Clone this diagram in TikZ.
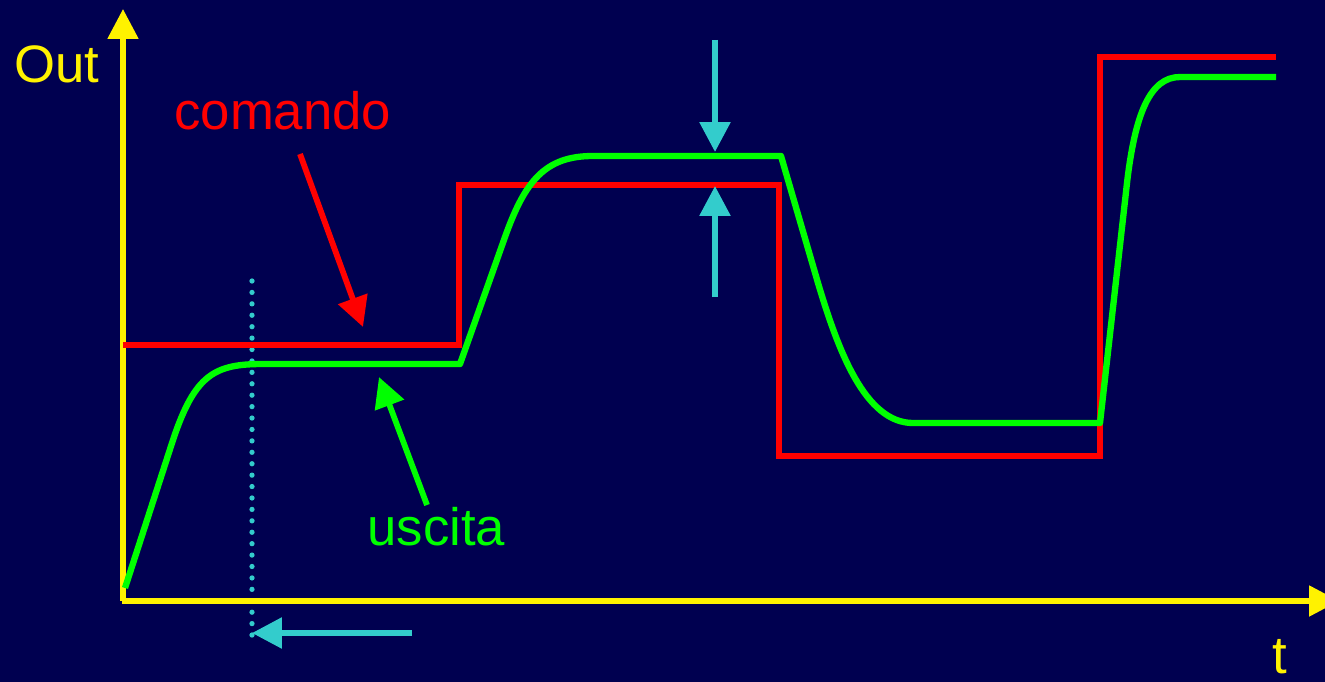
\documentclass[tikz,border=0pt]{standalone}
\usepackage{fontspec}
\setmainfont{Liberation Sans}
\usetikzlibrary{arrows.meta,positioning,calc}
\definecolor{navy}{RGB}{0,0,80}
\definecolor{cyanarr}{RGB}{51,204,204}

\begin{document}
\begin{tikzpicture}
  [x=0.02cm,y=-0.02cm,
   every node/.style={inner sep=0, anchor=base west, font=\fontsize{30}{36}\selectfont},
   axisline/.style={draw=yellow, line width=3pt, -{Triangle[length=0.6cm,width=0.6cm]}},
   pointer/.style={line width=3.3pt, -{Triangle[length=0.6cm,width=0.6cm]}},
   cmdline/.style={draw=red, line width=3.2pt, line join=miter},
   outcurve/.style={draw=green, line width=3.6pt, line join=round}]
  \fill [navy] (0,0) rectangle (1325,682);
  \useasboundingbox (0,0) rectangle (1325,682);

  \coordinate (O) at (123,601);
  \coordinate (xstart) at (121.5,601);
  \coordinate (ytip) at (123,9);
  \coordinate (xtip) at (1339,601);

  \coordinate (cmdtail) at (300,154);
  \coordinate (cmdtip) at (363,327);
  \coordinate (outtail) at (427,505);
  \coordinate (outtip) at (379,377);
  \coordinate (gaptopA) at (715,40);
  \coordinate (gaptopB) at (715,152);
  \coordinate (gapbotA) at (715,297);
  \coordinate (gapbotB) at (715,186);
  \coordinate (delayA) at (412,633);
  \coordinate (delayB) at (252,633);
  \coordinate (dtop) at (252,281);
  \coordinate (dbot) at (252,638);

  % settling time marker
  \draw [cyanarr, line width=3pt, line cap=round, dash pattern=on 0pt off 6.5pt] (dtop) -- (dbot);

  % axes
  \draw [axisline] (O) -- (ytip);
  \draw [axisline] (xstart) -- (xtip);

  % command
  \draw [cmdline] (123,345) -- (459,345) -- (459,185) -- (779,185) -- (779,456)
    -- (1100,456) -- (1100,57) -- (1276,57);

  % output
  \draw [outcurve] (125,588) -- (173,440) .. controls (195,374) and (215,364) .. (263,364)
    -- (460,364) -- (505,237) .. controls (525,181) and (545,156) .. (593,156)
    -- (781,156) -- (818,283) .. controls (838,350) and (865,423) .. (913,423)
    -- (1100,423) -- (1127,183) .. controls (1135,114) and (1150,77) .. (1180,77)
    -- (1276,77);

  % labels
  \node [text=yellow] (outlbl) at (14,83) {Out};
  \node [text=red] (cmdlbl) at (174,130) {comando};
  \node [text=green] (uscitalbl) at (367,545) {uscita};
  \node [text=yellow] (tlbl) at (1272,673) {t};

  \draw [pointer, red] (cmdtail) -- (cmdtip);
  \draw [pointer, green] (outtail) -- (outtip);
  \draw [pointer, cyanarr] (gaptopA) -- (gaptopB);
  \draw [pointer, cyanarr] (gapbotA) -- (gapbotB);
  \draw [pointer, cyanarr] (delayA) -- (delayB);
\end{tikzpicture}
\end{document}
